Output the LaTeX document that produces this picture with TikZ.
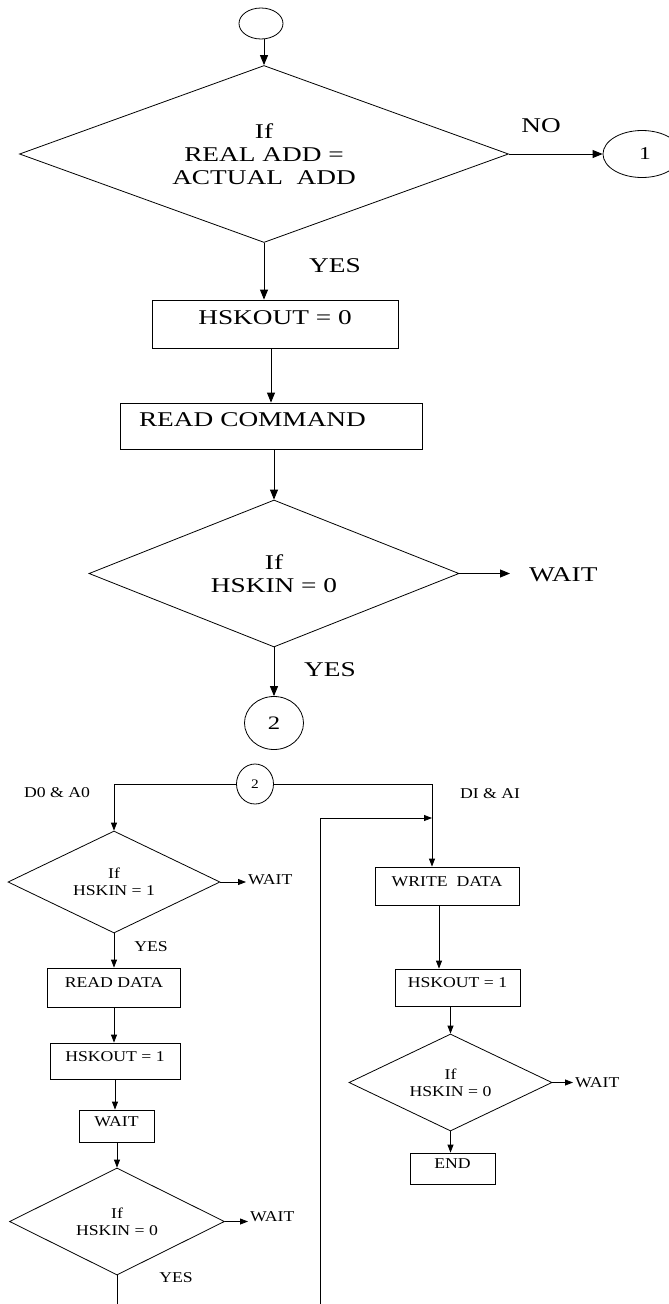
\documentclass[tikz,border=0pt]{standalone}
\usepackage{fontspec}
\setmainfont[FakeStretch=1.3]{Liberation Serif}
\newfontfamily\lowfont[FakeStretch=1.18]{Liberation Serif}
\usetikzlibrary{shapes.geometric,arrows.meta}

\tikzset{
  bigtxt/.style={font=\fontsize{21}{23}\selectfont},
  lowtxt/.style={font=\lowfont\fontsize{15}{17}\selectfont},
  decision/.style={diamond, draw, line width=0.8pt, inner sep=0pt, align=center},
  procbox/.style={rectangle, draw, line width=0.8pt, inner sep=2pt, text height=0.7em, text depth=0.7em},
  connector/.style={ellipse, draw, line width=0.8pt, inner sep=0pt},
  arr/.style={-{Triangle[length=10pt,width=8pt]}, line width=0.9pt},
  arrsmall/.style={-{Triangle[length=8pt,width=6pt]}, line width=0.8pt},
}

\begin{document}
\begin{tikzpicture}[x=1pt, y=-1pt]
        \useasboundingbox (0,0) rectangle (669,1304);

                % Upper chart: address check and command
                \node[connector, minimum width=44, minimum height=31] (start) at (261, 23.5) {};
                \node[decision, bigtxt, aspect=2.76, minimum width=489, minimum height=177] (d1) at (264, 154) {If\\REAL ADD =\\ACTUAL\ \ ADD};
                \node[connector, bigtxt, minimum width=78, minimum height=47, font=\fontsize{18}{20}\selectfont] (c1) at (642, 154) {\ 1};
                \node[bigtxt] (no) at (541, 126) {NO};
                \node[bigtxt] (yes1) at (335, 266) {YES};
                \node[procbox, bigtxt, minimum width=246, minimum height=48] (hsk0) at (275, 324) {HSKOUT = 0};
                \node[procbox, bigtxt, minimum height=46, inner xsep=19, text width=264, align=left] (readcmd) at (271, 426) {READ COMMAND};
                \node[decision, bigtxt, aspect=2.52, minimum width=370, minimum height=147] (d2) at (274, 573.5) {If\\HSKIN = 0};
                \node[bigtxt, anchor=west, inner xsep=19] (wait1) at (510, 575) {WAIT};
                \node[bigtxt] (yes2) at (330, 670) {YES};
                \node[connector, minimum width=59, minimum height=53, font=\fontsize{19}{21}\selectfont] (c2a) at (274, 723) {2};

                \draw[arr] (d1.north |- start.south) -- (d1.north);
                \draw[arr] (d1.east) -- (c1.west);
                \draw[arr] (d1.south) -- (d1.south |- hsk0.north);
                \draw[arr] (readcmd.north |- hsk0.south) -- (readcmd.north);
                \draw[arr] (d2.north |- readcmd.south) -- (d2.north);
                \draw[arr] (d2.east) -- (d2.east -| wait1.west);
                \draw[arr] (d2.south) -- (c2a.north);

                % Lower chart: the two branches from connector 2
                \node[connector, minimum width=37, minimum height=40, font=\lowfont\fontsize{13}{15}\selectfont] (c2b) at (255, 784) {2};
                \node[lowtxt] (dalab) at (57, 793) {D0 \& A0};
                \node[lowtxt] (dilab) at (490, 794) {DI \& AI};
                \coordinate (rjoin) at (432, 818);
                \coordinate (loopend) at (320, 1304);
                \coordinate (leftend) at (117, 1304);

                % left branch
                \node[decision, lowtxt, aspect=2.08, minimum width=212, minimum height=102] (d3) at (114, 882) {If\\HSKIN = 1};
                \node[lowtxt, anchor=west, inner sep=2pt] (wait3) at (246, 880) {WAIT};
                \node[lowtxt] (yes3) at (151, 947) {YES};
                \node[procbox, lowtxt, minimum width=133, minimum height=39] (readdata) at (114, 987.5) {READ DATA};
                \node[procbox, lowtxt, minimum width=130, minimum height=36] (hsk1l) at (115, 1061) {HSKOUT = 1};
                \node[procbox, lowtxt, minimum width=75, minimum height=32] (waitbox) at (116.5, 1126) {WAIT};
                \node[decision, lowtxt, aspect=2.0, minimum width=215, minimum height=107] (d4) at (117, 1221.5) {If\\HSKIN = 0};
                \node[lowtxt, anchor=west, inner sep=2pt] (wait4) at (248, 1217) {WAIT};
                \node[lowtxt] (yes4) at (176, 1278) {YES};

                % right branch
                \node[procbox, lowtxt, minimum width=144, minimum height=38] (wdata) at (447, 886) {WRITE\ \ DATA};
                \node[procbox, lowtxt, minimum width=125, minimum height=37] (hsk1r) at (457.5, 987.5) {HSKOUT = 1};
                \node[decision, lowtxt, aspect=2.09, minimum width=203, minimum height=97] (d5) at (450.5, 1082.5) {If\\HSKIN = 0};
                \node[lowtxt, anchor=west, inner sep=2pt] (wait5) at (573, 1083) {WAIT};
                \node[procbox, lowtxt, minimum width=85, minimum height=31] (endbox) at (452.5, 1168.5) {END};

                \draw[arrsmall] (c2b.west) -| (d3.north);
                \draw[arrsmall] (c2b.east) -| (rjoin |- wdata.north);
                \draw[arrsmall] (loopend) |- (rjoin);
                \draw[arrsmall] (d3.east) -- (d3.east -| wait3.west);
                \draw[arrsmall] (d3.south) -- (d3.south |- readdata.north);
                \draw[arrsmall] (readdata.south) -- (readdata.south |- hsk1l.north);
                \draw[arrsmall] (hsk1l.south) -- (hsk1l.south |- waitbox.north);
                \draw[arrsmall] (d4.north |- waitbox.south) -- (d4.north);
                \draw[arrsmall] (d4.east) -- (d4.east -| wait4.west);
                \draw[line width=0.8pt] (d4.south) -- (leftend);
                \draw[arrsmall] ([xshift=-8pt]wdata.south) -- ([xshift=-8pt]wdata.south |- hsk1r.north);
                \draw[arrsmall] (d5.north |- hsk1r.south) -- (d5.north);
                \draw[arrsmall] (d5.east) -- (d5.east -| wait5.west);
                \draw[arrsmall] (d5.south) -- (d5.south |- endbox.north);
            \end{tikzpicture}
\end{document}
